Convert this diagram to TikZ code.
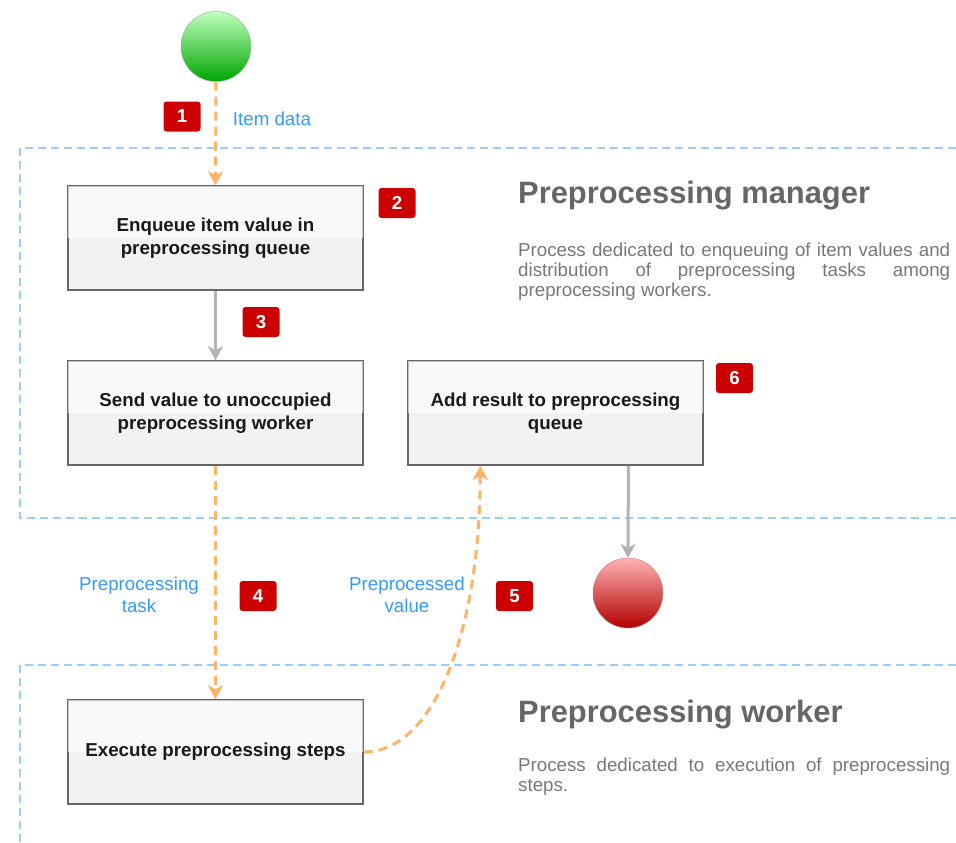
\documentclass[tikz,border=0pt]{standalone}
\usepackage{fontspec}
\setmainfont{Liberation Sans}
\usetikzlibrary{arrows.meta,calc}
\definecolor{boxfill}{HTML}{F2F2F2}
\definecolor{boxborder}{HTML}{666666}
\definecolor{txtdark}{HTML}{1A1A1A}
\definecolor{badgered}{HTML}{CC0000}
\definecolor{lblblue}{HTML}{3399FF}
\definecolor{flowor}{HTML}{FFB366}
\definecolor{plaingray}{HTML}{B3B3B3}
\definecolor{contblue}{HTML}{99CCFF}
\definecolor{titlegray}{HTML}{666666}
\definecolor{descgray}{HTML}{777777}
\tikzset{
  procbox/.style={rectangle, minimum width=295bp, minimum height=104bp, fill=boxfill, draw=boxborder, line width=1.5bp, align=center, text=txtdark, font=\bfseries\fontsize{18.8}{23}\selectfont, inner sep=0pt,
    postaction={path picture={\fill[white, opacity=0.6] ([xshift=-3bp,yshift=3bp]path picture bounding box.north west) rectangle ([xshift=3bp]path picture bounding box.east);}}},
  badge/.style={rectangle, rounded corners=3bp, fill=badgered, minimum width=37bp, minimum height=30bp, text=white, font=\bfseries\fontsize{18.8}{22}\selectfont, inner sep=0pt},
  lbl/.style={text=lblblue, align=center, font=\fontsize{18.8}{22}\selectfont, inner sep=0pt},
  flow/.style={draw=flowor, line width=3bp, dash pattern=on 9bp off 6bp, -{Stealth[length=14bp,width=15bp,inset=4bp]}},
  plainarr/.style={draw=plaingray, line width=3bp, -{Stealth[length=14bp,width=15bp,inset=4bp]}},
  cont/.style={draw=contblue, line width=1.5bp, dash pattern=on 8bp off 5bp},
  ttl/.style={anchor=base west, text=titlegray, font=\bfseries\fontsize{31}{36}\selectfont, inner sep=0pt},
  desc/.style={anchor=north west, text=descgray, text width=432bp, align=justify, font=\fontsize{18.8}{20}\selectfont, inner sep=0pt},
  startc/.style={circle, minimum size=70bp, inner sep=0pt, top color=green!25!white, bottom color=green!65!black, draw=green!45!black!50},
  endc/.style={circle, minimum size=70bp, inner sep=0pt, top color=red!30!white, bottom color=red!70!black, draw=red!50!black!50}
}
\begin{document}
\begin{tikzpicture}[x=1bp,y=-1bp]
\useasboundingbox (0,0) rectangle (956,843);
% containers
\draw[cont] (956,148) -- (20,148) -- (20,518) -- (956,518);
\draw[cont] (956,665) -- (20,665) -- (20,843);
% circles
\node[startc] (start) at (216,46.5) {};
\node[endc] (stop) at (628,593) {};
% boxes
\node[procbox] (b1) at (215.5,238) {Enqueue item value in\\preprocessing queue};
\node[procbox] (b2) at (215.5,413) {Send value to unoccupied\\preprocessing worker};
\node[procbox] (b3) at (555.5,413) {Add result to preprocessing\\queue};
\node[procbox] (b4) at (215.5,752) {Execute preprocessing steps};
% titles and descriptions
\node[ttl] (t1) at (518,203) {Preprocessing manager};
\node[desc] (d1) at (518,243) {Process dedicated to enqueuing of item values and\linebreak distribution of preprocessing tasks among\linebreak preprocessing workers.};
\node[ttl] (t2) at (518,722) {Preprocessing worker};
\node[desc] (d2) at (518,758) {Process dedicated to execution of preprocessing\linebreak steps.};
% badges
\node[badge] (n1) at (182,116.5) {1};
\node[badge] (n2) at (397,203) {2};
\node[badge] (n3) at (261,322) {3};
\node[badge] (n4) at (258,596) {4};
\node[badge] (n5) at (514.5,596) {5};
\node[badge] (n6) at (734.5,378) {6};
% labels
\node[lbl] (l1) at (272,119) {Item data};
\node[lbl] (l4) at (139,595) {Preprocessing\\task};
\node[lbl] (l5) at (407,595) {Preprocessed\\value};
% connectors
\draw[flow] (start.south) -- (b1.north);
\draw[plainarr] (b1.south) -- (b2.north);
\draw[flow] (b2.south) -- (b4.north);
\coordinate (b3in) at ($(b3.south west)+(73,0)$);
\draw[flow] (b4.east) .. controls (435,752) and (480,630) .. (b3in);
\coordinate (b3out) at ($(b3.south west)!0.746!(b3.south east)$);
\draw[plainarr] (b3out) -- (stop.north);
\end{tikzpicture}
\end{document}
